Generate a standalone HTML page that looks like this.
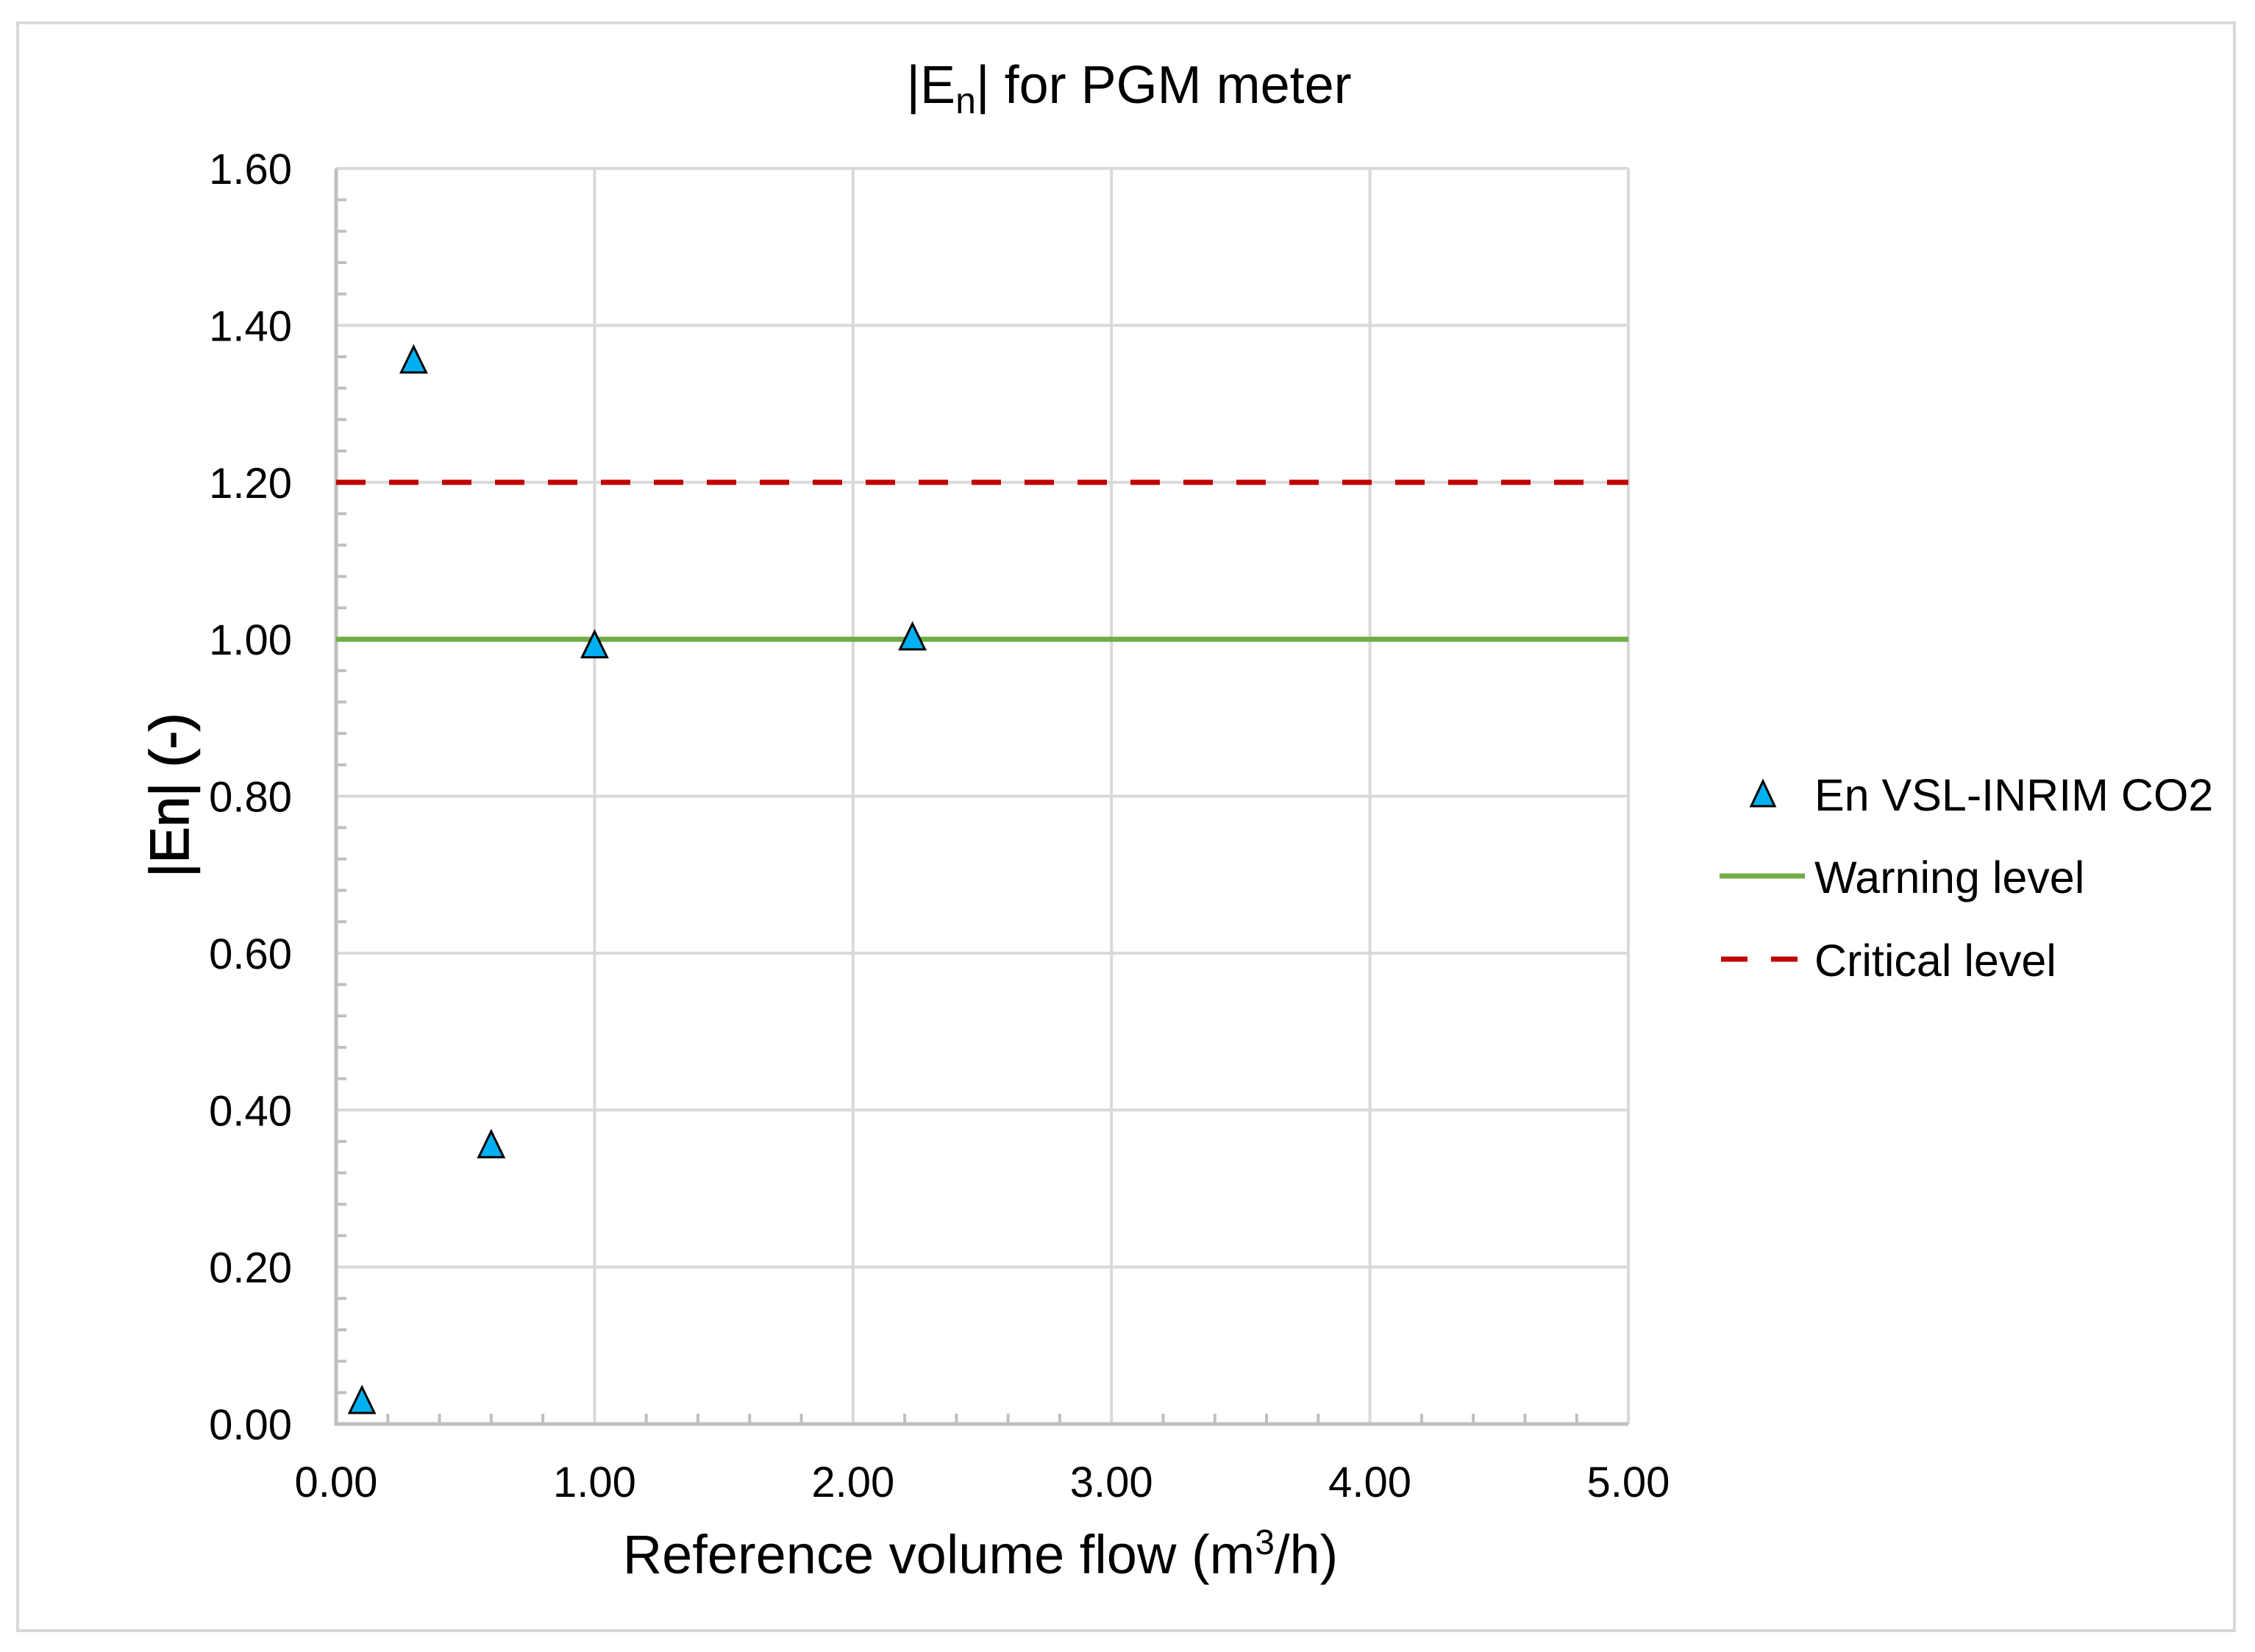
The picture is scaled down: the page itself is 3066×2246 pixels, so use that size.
<!DOCTYPE html>
<html><head><meta charset="utf-8"><style>
html,body{margin:0;padding:0;background:#fff;}
svg{display:block;font-family:"Liberation Sans",Arial,sans-serif;}
</style></head><body>
<svg id="chart" width="3066" height="2246" viewBox="0 0 3066 2246" xmlns="http://www.w3.org/2000/svg">
<rect x="24" y="31" width="3014" height="2186" fill="#fff" stroke="#d9d9d9" stroke-width="4"/>
<text x="1535" y="140" font-size="72" text-anchor="middle" fill="#000">|E<tspan font-size="50" dy="14">n</tspan><tspan dy="-14">| for PGM meter</tspan></text>
<g id="grid"></g>
<g id="axes"></g>
<g id="series"></g>
<text x="1333" y="2139" font-size="74" text-anchor="middle" fill="#000">Reference volume flow (m<tspan font-size="48" dy="-26">3</tspan><tspan dy="26">/h)</tspan></text>
<text transform="translate(256,1081) rotate(-90)" font-size="74" text-anchor="middle" fill="#000" stroke="#000" stroke-width="1.5">|En| (-)</text>
<g>
<g>
<polygon points="2397,1062 2381,1096 2413,1096" fill="#00b0f0" stroke="#000" stroke-width="3"/>
<text x="2467" y="1102" font-size="61" fill="#000">En VSL-INRIM CO2</text></g>
<g>
<line x1="2338" y1="1191" x2="2454" y2="1191" stroke="#70ad47" stroke-width="7"/>
<text x="2467" y="1214" font-size="61" fill="#000">Warning level</text></g>
<g>
<line x1="2340" y1="1304" x2="2454" y2="1304" stroke="#c00000" stroke-width="7" stroke-dasharray="36,32"/>
<text x="2467" y="1327" font-size="61" fill="#000">Critical level</text></g>
</g>
</svg>
<script>
const xValues = [0.10, 0.30, 0.60, 1.00, 2.23];
const yValues = [0.03, 1.356, 0.356, 0.993, 1.003];
const warningLevel = [1.0];
const criticalLevel = [1.2];
const xTicks = [0, 1, 2, 3, 4, 5];
const yTicks = [0, 0.2, 0.4, 0.6, 0.8, 1.0, 1.2, 1.4, 1.6];

const L=457,R=2214,T=229,B=1936,XMAX=5,YMAX=1.6;
const sx=v=>L+(R-L)*v/XMAX;
const sy=v=>B-(B-T)*v/YMAX;
const NS='http://www.w3.org/2000/svg';
function mk(tag,attrs,parent){const e=document.createElementNS(NS,tag);for(const k in attrs)e.setAttribute(k,attrs[k]);parent.appendChild(e);return e;}
const grid=document.getElementById('grid'),axes=document.getElementById('axes'),series=document.getElementById('series');
yTicks.forEach(v=>{
  if(v>0){const g=mk('line',{x1:L,x2:R,y1:sy(v),y2:sy(v),stroke:'#d9d9d9','stroke-width':4},grid);
  
  }
  const t=mk('text',{x:397,y:sy(v)+21,'font-size':58,'text-anchor':'end',fill:'#000'},axes);
  t.textContent=v.toFixed(2);
  
  
});
xTicks.forEach(v=>{
  if(v>0){const g=mk('line',{x1:sx(v),x2:sx(v),y1:T,y2:B,stroke:'#d9d9d9','stroke-width':4},grid);
  
  }
  const t=mk('text',{x:sx(v),y:2035,'font-size':58,'text-anchor':'middle',fill:'#000'},axes);
  t.textContent=v.toFixed(2);
  
  
});
for(let i=1;i<40;i++){const v=i*0.04;if(i%5===0)continue;
  mk('line',{x1:L,x2:L+14,y1:sy(v),y2:sy(v),stroke:'#bfbfbf','stroke-width':4},axes);}
for(let i=1;i<25;i++){const v=i*0.2;if(i%5===0)continue;
  mk('line',{x1:sx(v),x2:sx(v),y1:B,y2:B-14,stroke:'#bfbfbf','stroke-width':4},axes);}
const ax=mk('line',{x1:L,x2:L,y1:T,y2:B+2,stroke:'#bfbfbf','stroke-width':5},axes);


const axx=mk('line',{x1:L-2,x2:R,y1:B,y2:B,stroke:'#bfbfbf','stroke-width':5},axes);


const wl=mk('line',{x1:L,x2:R,y1:sy(warningLevel[0]),y2:sy(warningLevel[0]),stroke:'#70ad47','stroke-width':7},series);


const cl=mk('line',{x1:L,x2:R,y1:sy(criticalLevel[0]),y2:sy(criticalLevel[0]),stroke:'#c00000','stroke-width':7,'stroke-dasharray':'40,32'},series);


xValues.forEach((x,i)=>{const cx=sx(x),cy=sy(yValues[i]);
  const p=mk('polygon',{points:`${cx},${cy-18} ${cx-17},${cy+17} ${cx+17},${cy+17}`,fill:'#00b0f0',stroke:'#000','stroke-width':3},series);
  
  
});
</script>
</body></html>
